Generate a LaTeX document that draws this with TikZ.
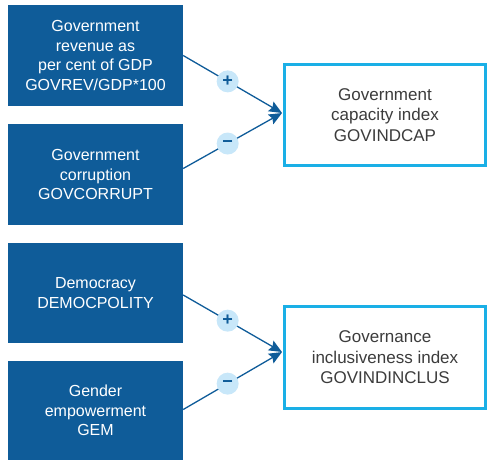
\documentclass[tikz,border=0pt]{standalone}
\usepackage{fontspec}
\setmainfont{Liberation Sans}
\usetikzlibrary{arrows.meta}
\definecolor{darkbox}{HTML}{0F5C99}
\definecolor{lightedge}{HTML}{1AAFE6}
\definecolor{signfill}{HTML}{C8E7F9}
\definecolor{darktext}{HTML}{3C3C3C}
\tikzset{
  srcbox/.style={fill=darkbox, draw=none, text=white, minimum width=175pt, align=center,
    font=\fontsize{16}{19.5}\selectfont, inner sep=0pt},
  idxbox/.style={draw=lightedge, line width=2.6pt, fill=white, text=darktext, minimum width=200.5pt,
    minimum height=101.5pt, align=center, font=\fontsize{17}{20.5}\selectfont, inner sep=0pt},
  link/.style={draw=darkbox, line width=1.3pt, -{Stealth[length=13pt,width=11pt,inset=2pt]}},
  sign/.style={circle, fill=signfill, draw=none, minimum size=22pt, inner sep=0pt,
    text=darkbox, font=\fontsize{18}{18}\selectfont\bfseries}
}
\begin{document}
\begin{tikzpicture}[x=1pt,y=-1pt]
\useasboundingbox (0,0) rectangle (487,459);
\node[srcbox, minimum height=101pt] (rev) at (95.5,55.5) {Government\\revenue as\\per cent of GDP\\GOVREV/GDP*100};
\node[srcbox, minimum height=101pt] (cor) at (95.5,174.5) {Government\\corruption\\GOVCORRUPT};
\node[srcbox, minimum height=100pt] (dem) at (95.5,293) {Democracy\\DEMOCPOLITY};
\node[srcbox, minimum height=99pt] (gem) at (95.5,410.5) {Gender\\empowerment\\GEM};
\node[idxbox] (cap) at (385,115) {Government\\capacity index\\GOVINDCAP};
\node[idxbox] (inc) at (385,357.5) {Governance\\inclusiveness index\\GOVINDINCLUS};
\coordinate (capin) at (282,113);
\coordinate (incin) at (282,352);
\draw[link] (rev.east) -- node[sign, pos=0.45] (p1) {+} (capin);
\draw[link] ([yshift=6pt]cor.east) -- node[sign, pos=0.45] (m1) {−} (capin);
\draw[link] ([yshift=-2pt]dem.east) -- node[sign, pos=0.45] (p2) {+} (incin);
\draw[link] ([yshift=1pt]gem.east) -- node[sign, pos=0.45] (m2) {−} (incin);
\end{tikzpicture}
\end{document}
